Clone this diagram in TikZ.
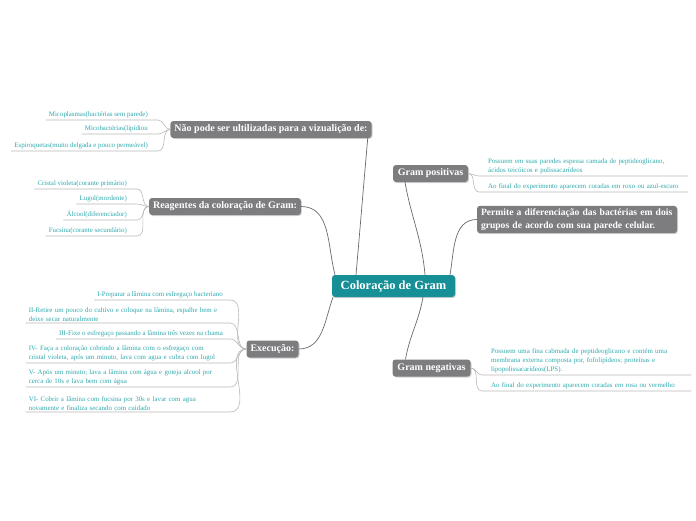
\documentclass[tikz,border=0pt]{standalone}
\usepackage{fontspec}
\setmainfont{Liberation Serif}
\usetikzlibrary{positioning, shadows}
\definecolor{tealC}{RGB}{22,143,150}
\definecolor{topicC}{RGB}{125,125,128}
\definecolor{leafC}{RGB}{45,168,172}
\definecolor{branchC}{RGB}{105,105,105}
\definecolor{twigC}{RGB}{185,185,185}
\tikzset{
  central/.style={rectangle, rounded corners=3pt, fill=tealC, text=white,
                  font=\fontsize{12.5}{14}\selectfont\bfseries,
                  minimum width=123pt, minimum height=22pt, inner sep=2pt,
                  drop shadow={opacity=0.35, shadow xshift=1pt, shadow yshift=-1pt}},
  topic/.style={rectangle, rounded corners=3pt, fill=topicC, text=white,
                font=\fontsize{10}{13}\selectfont\bfseries,
                minimum height=17pt, inner xsep=4pt, inner ysep=2pt,
                drop shadow={opacity=0.35, shadow xshift=1pt, shadow yshift=-1pt}},
  leafL/.style={font=\fontsize{6.9}{9}\selectfont, text=leafC,
                inner xsep=3pt, inner ysep=1.5pt, anchor=south east, align=right},
  leafR/.style={font=\fontsize{6.9}{9}\selectfont, text=leafC, text width=197pt,
                inner xsep=3pt, inner ysep=1.5pt, anchor=south west, align=left},
  branch/.style={draw=branchC, line width=0.7pt},
  twig/.style={draw=twigC, line width=0.6pt},
}
\begin{document}
\begin{tikzpicture}[x=1pt, y=-1pt]
    \useasboundingbox (0,0) rectangle (696,520);
    %% main topics
    \node[central] (gram) at (393.5,286) {Coloração de Gram};
    \node[topic, minimum width=198pt] (naoPode) at (271,129.5)
      {Não pode ser ultilizadas para a vizualição de:};
    \node[topic, minimum width=150pt] (reag) at (225,206.5)
      {Reagentes da coloração de Gram:};
    \node[topic, minimum width=52pt] (exec) at (272.5,349) {Execução:};
    \node[topic, minimum width=75pt] (gramPos) at (430.5,173.5) {Gram positivas};
    \node[topic, minimum width=78pt] (gramNeg) at (431.5,368) {Gram negativas};
    \node[topic, text width=192pt, align=left, inner ysep=3pt,
          font=\fontsize{9.6}{12.5}\selectfont\bfseries] (permite) at (577,219.5)
      {Permite a diferenciação das bactérias em dois\\grupos de acordo com sua parede celular.};
    %% branches
    \draw[branch] ([xshift=-37.5pt]gram.north) to[out=85,in=-95] ([xshift=-4pt]naoPode.south east);
    \draw[branch] ([xshift=-58.5pt]gram.north) to[out=105,in=0] (reag.east);
    \draw[branch] ([xshift=31.5pt]gram.north) to[out=95,in=-80] ([xshift=-25.5pt]gramPos.south);
    \draw[branch] ([xshift=56.5pt]gram.north) to[out=80,in=180] (permite.west);
    \draw[branch] ([xshift=-60.5pt]gram.south) to[out=-110,in=0] (exec.east);
    \draw[branch] ([xshift=29.5pt]gram.south) to[out=-100,in=80] ([xshift=-26pt]gramNeg.north);
    %% leaves: nao pode
    \foreach \n/\y/\t in {a/120/Micoplasmas(bactérias sem parede),
                          b/134/Micobactérias(lipídiou,
                          c/151/Espiroquetas(muito delgada e pouco permeável)}{
      \node[leafL] (np\n) at (151,\y) {\t};
      \draw[twig] (naoPode.west) to[out=180,in=0] ([xshift=7pt]np\n.south east) -- (np\n.south west);
    }
    %% leaves: reagentes
    \foreach \n/\y/\t in {a/189/Cristal violeta(corante primário),
                          b/204/Lugol(mordente),
                          c/220/Álcool(diferenciador),
                          d/236/Fucsina(corante secundário)}{
      \node[leafL] (rg\n) at (130,\y) {\t};
      \draw[twig] (reag.west) to[out=180,in=0] ([xshift=7pt]rg\n.south east) -- (rg\n.south west);
    }
    %% leaves: execucao
    \node[leafL] (ex1) at (226,300) {I-Preparar a lâmina com esfregaço bacteriano};
    \node[leafL, text width=194pt, align=left] (ex2) at (226,323)
      {II-Retire um pouco do cultivo e coloque na lâmina, espalhe bem e\\deixe secar naturalmente};
    \node[leafL] (ex3) at (226,339) {III-Fixe o esfregaço passando a lâmina três vezes na chama};
    \node[leafL, text width=194pt, align=left] (ex4) at (226,363)
      {IV- Faça a coloração cobrindo a lâmina com o esfregaço com\\cristal violeta, após um minuto, lava com agua e cubra com lugol};
    \node[leafL, text width=194pt, align=left] (ex5) at (226,387)
      {V- Após um minuto; lava a lâmina com água e goteja alcool por\\cerca de 10s e lava bem com água};
    \node[leafL, text width=194pt, align=left] (ex6) at (226,412)
      {VI- Cobrir a lâmina com fucsina por 30s e lavar com agua\\novamente e finaliza secando com cuidado};
    \foreach \n in {1,...,6}{
      \draw[twig] (exec.west) to[out=180,in=0] ([xshift=4pt]ex\n.south east) -- (ex\n.south west);
    }
    %% leaves: gram positivas / negativas
    \node[leafR] (po1) at (485,176)
      {Possuem em suas paredes espessa camada de peptideoglicano,\\ácidos teicóicos e polissacarídeos};
    \node[leafR] (po2) at (485,192)
      {Ao final do experimento aparecem coradas em roxo ou azul-escuro};
    \node[leafR] (ne1) at (488,375)
      {Possuem uma fina cabmada de peptideoglicano e contém uma\\membrana externa composta por, fofolipídeos; proteínas e\\lipopolissacarídeos(LPS).};
    \node[leafR] (ne2) at (488,391)
      {Ao final do experimento aparecem coradas em rosa ou vermelho};
    \foreach \n in {1,2}{
      \draw[twig] (gramPos.east) to[out=0,in=180] ([xshift=-6pt]po\n.south west) -- (po\n.south east);
      \draw[twig] (gramNeg.east) to[out=0,in=180] ([xshift=-6pt]ne\n.south west) -- (ne\n.south east);
    }
\end{tikzpicture}
\end{document}
